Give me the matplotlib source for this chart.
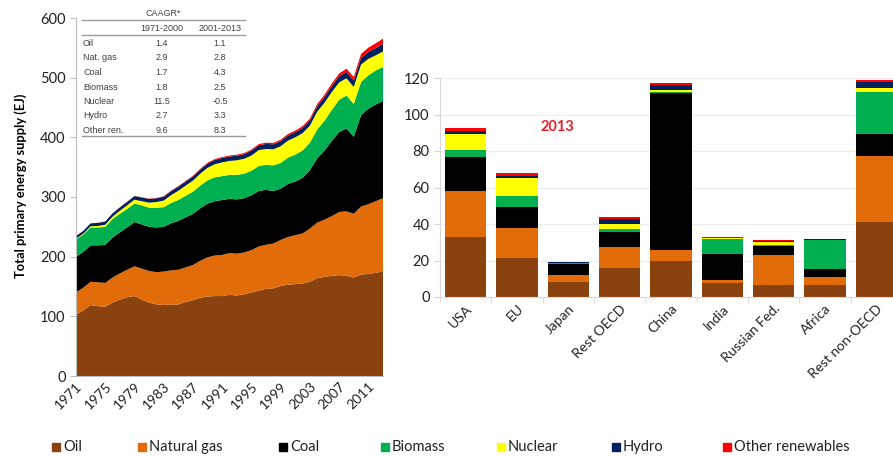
import matplotlib
matplotlib.use("Agg")
import matplotlib.pyplot as plt
from matplotlib.patches import Rectangle
from matplotlib.lines import Line2D
import numpy as np

# ---- data: world total primary energy supply (EJ), 1971-2013 ----
years = list(range(1971, 2014))
oil = [103, 110, 119, 117, 116, 123, 128, 132, 134, 128,
       123, 120, 119, 120, 120, 124, 127, 131, 133, 134,
       134, 136, 135, 137, 140, 143, 146, 147, 151, 153,
       154, 155, 158, 164, 166, 168, 169, 168, 165, 170,
       171, 173, 175]
gas = [37, 38, 39, 40, 40, 42, 44, 46, 50, 52,
       53, 54, 56, 57, 58, 58, 59, 62, 66, 68,
       69, 70, 70, 70, 71, 74, 74, 75, 77, 80,
       82, 84, 89, 93, 96, 100, 106, 108, 107, 114,
       117, 120, 123]
coal = [60, 60, 61, 62, 64, 67, 69, 71, 74, 74,
        74, 75, 75, 79, 82, 84, 86, 88, 90, 91,
        92, 91, 91, 91, 92, 93, 92, 88, 86, 89,
        90, 93, 98, 108, 116, 126, 134, 139, 129, 153,
        160, 162, 163]
biomass = [29, 29, 30, 30, 30, 31, 31, 31, 31, 32,
           32, 33, 33, 34, 35, 36, 37, 38, 39, 40,
           40, 40, 41, 41, 41, 42, 42, 43, 43, 44,
           45, 46, 46, 48, 50, 52, 54, 55, 55, 56,
           56, 57, 57]
nuclear = [1, 1.5, 2, 2.5, 3.5, 4, 5, 6, 6.5, 7,
           8.5, 9.5, 11, 13, 15.5, 17, 18.5, 20, 21, 22,
           23, 23.5, 24.5, 25, 25.5, 26.5, 26.5, 27, 28, 28.5,
           29, 29, 28.5, 30, 30, 30, 29, 29, 28.5, 29,
           27.5, 25.5, 26]
hydro = [4.5, 4.7, 4.8, 5.1, 5.3, 5.4, 5.5, 5.8, 6, 6.1,
         6.2, 6.3, 6.5, 6.7, 6.8, 6.9, 6.9, 7, 7.1, 7.3,
         7.4, 7.4, 7.7, 7.8, 8.1, 8.2, 8.4, 8.4, 8.5, 8.6,
         8.5, 8.7, 8.7, 9.2, 9.6, 9.9, 10.1, 10.6, 10.7, 11.2,
         11.5, 12.1, 12.4]
other_ren = [0.2, 0.2, 0.2, 0.2, 0.2, 0.3, 0.3, 0.3, 0.3, 0.4,
             0.5, 0.6, 0.7, 0.8, 0.9, 1.0, 1.1, 1.2, 1.3, 1.4,
             1.5, 1.6, 1.7, 1.8, 1.9, 2.0, 2.1, 2.2, 2.4, 2.6,
             2.8, 3.0, 3.3, 3.6, 3.9, 4.3, 4.8, 5.4, 5.9, 6.6,
             7.3, 8.0, 8.8]

# ---- data: 2013 by region (EJ) ----
regions = ["USA", "EU", "Japan", "Rest OECD", "China", "India",
           "Russian Fed.", "Africa", "Rest non-OECD"]
r_oil = [32.7, 21.2, 8.0, 15.9, 19.9, 7.7, 6.6, 6.8, 41.3]
r_gas = [25.6, 16.4, 4.3, 11.5, 5.9, 1.8, 16.6, 4.3, 35.8]
r_coal = [18.2, 11.9, 5.8, 8.0, 86.0, 14.1, 4.9, 4.4, 12.4]
r_biomass = [4.2, 5.7, 0.5, 1.9, 0.3, 8.4, 0.4, 15.6, 22.6]
r_nuclear = [8.8, 10.0, 0.1, 2.9, 1.2, 0.2, 1.5, 0.1, 2.2]
r_hydro = [1.4, 1.0, 0.3, 2.5, 2.7, 0.4, 0.9, 0.4, 3.3]
r_other = [1.6, 1.8, 0.3, 0.9, 1.5, 0.2, 0.1, 0.1, 1.4]

# ---- CAAGR table ----
tab_rows = ["Oil", "Nat. gas", "Coal", "Biomass", "Nuclear", "Hydro", "Other ren."]
tab_1971_2000 = ["1.4", "2.9", "1.7", "1.8", "11.5", "2.7", "9.6"]
tab_2001_2013 = ["1.1", "2.8", "4.3", "2.5", "-0.5", "3.3", "8.3"]

names = ["Oil", "Natural gas", "Coal", "Biomass", "Nuclear", "Hydro",
         "Other renewables"]
colors = ["#8a420e", "#e36c0a", "#000000", "#00b050", "#ffff00",
          "#002060", "#ff0000"]

W, H = 893, 457
font = "Lato"
grey = "#bfbfbf"


def fx(px):
    return px / W


def fy(py):
    return 1 - py / H


fig = plt.figure(figsize=(W / 100, H / 100), dpi=100)

# ---------- left: stacked area ----------
ax1 = fig.add_axes([fx(76), fy(376), (383 - 76) / W, (376 - 18) / H])
ax1.stackplot(years, oil, gas, coal, biomass, nuclear, hydro, other_ren,
              colors=colors, linewidth=0)
ax1.set_xlim(1971, 2013)
ax1.set_ylim(0, 600)
ax1.set_yticks(range(0, 601, 100))
ax1.set_xticks(range(1971, 2012, 4))
for s in ["top", "right"]:
    ax1.spines[s].set_visible(False)
for s in ["left", "bottom"]:
    ax1.spines[s].set_color(grey)
    ax1.spines[s].set_linewidth(0.8)
ax1.tick_params(axis="y", colors=grey, length=4, labelcolor="#222222",
                labelsize=10.5)
ax1.tick_params(axis="x", colors=grey, length=0, labelcolor="#222222",
                labelsize=10, pad=3)
for lab in ax1.get_yticklabels() + ax1.get_xticklabels():
    lab.set_fontfamily(font)
plt.setp(ax1.get_xticklabels(), rotation=45, ha="right",
         rotation_mode="anchor")
ax1.set_ylabel("Total primary energy supply (EJ)", fontsize=9.3,
               fontweight="bold", family=font)
ax1.yaxis.set_label_coords(-0.16, 0.53)

# CAAGR table drawn as text
tc = "#404040"
tfont = "Liberation Sans"
fig.text(fx(163), fy(13), "CAAGR*", ha="center", va="center", fontsize=6.5,
         color=tc, family=tfont)
for yy in [19.5, 34.5, 136.5]:
    fig.add_artist(Line2D([fx(82), fx(245)], [fy(yy), fy(yy)], color="#999999",
                          linewidth=1.0, transform=fig.transFigure))
fig.text(fx(162), fy(28.5), "1971-2000", ha="center", va="center",
         fontsize=6.5, color=tc, family=tfont)
fig.text(fx(220), fy(28.5), "2001-2013", ha="center", va="center",
         fontsize=6.5, color=tc, family=tfont)
row_y = [43.5, 58, 72.5, 87, 101.5, 116, 130.5]
for lab, a, b, yy in zip(tab_rows, tab_1971_2000, tab_2001_2013, row_y):
    fig.text(fx(83), fy(yy), lab, ha="left", va="center", fontsize=6.5,
             color=tc, family=tfont)
    fig.text(fx(162), fy(yy), a, ha="center", va="center", fontsize=6.5,
             color=tc, family=tfont)
    fig.text(fx(220), fy(yy), b, ha="center", va="center", fontsize=6.5,
             color=tc, family=tfont)

# ---------- right: stacked bars ----------
ax2 = fig.add_axes([fx(440), fy(297), 462 / W, (297 - 78) / H])
x = np.arange(len(regions))
bottom = np.zeros(len(regions))
for vals, c in zip([r_oil, r_gas, r_coal, r_biomass, r_nuclear, r_hydro,
                    r_other], colors):
    ax2.bar(x, vals, width=0.8, bottom=bottom, color=c, linewidth=0,
            zorder=2)
    bottom += np.array(vals)
ax2.set_xlim(-0.5, len(regions) - 0.5)
ax2.set_ylim(0, 120)
ax2.set_yticks(range(0, 121, 20))
ax2.yaxis.grid(True, color="#ececec", linewidth=0.8, zorder=0)
ax2.set_axisbelow(True)
for s in ["top", "right"]:
    ax2.spines[s].set_visible(False)
for s in ["left", "bottom"]:
    ax2.spines[s].set_color("#d9d9d9")
    ax2.spines[s].set_linewidth(0.8)
ax2.set_xticks(x)
ax2.set_xticklabels(regions)
ax2.set_xticks(np.arange(-0.5, len(regions), 1), minor=True)
ax2.tick_params(axis="x", which="major", length=0, labelsize=10,
                labelcolor="#222222", pad=4)
ax2.tick_params(axis="x", which="minor", length=4, color="#d9d9d9")
ax2.tick_params(axis="y", length=4, color="#d9d9d9", labelsize=10.5,
                labelcolor="#222222")
for lab in ax2.get_yticklabels() + ax2.get_xticklabels():
    lab.set_fontfamily(font)
plt.setp(ax2.get_xticklabels(), rotation=45, ha="right",
         rotation_mode="anchor")
ax2.text(1.78, 93, "2013", color="#e8202a", fontsize=10.5, fontweight="bold",
         ha="center", va="center", family=font)

# ---------- legend along the bottom ----------
leg_x = [52, 138, 279, 381, 497, 612, 723]
for px, name, c in zip(leg_x, names, colors):
    fig.add_artist(Rectangle((fx(px), fy(451)), 8 / W, 8 / H, color=c,
                             transform=fig.transFigure))
    fig.text(fx(px + 11), fy(447), name, ha="left", va="center",
             fontsize=10.5, color="#222222", family=font)

fig.savefig("out.png", dpi=100)
